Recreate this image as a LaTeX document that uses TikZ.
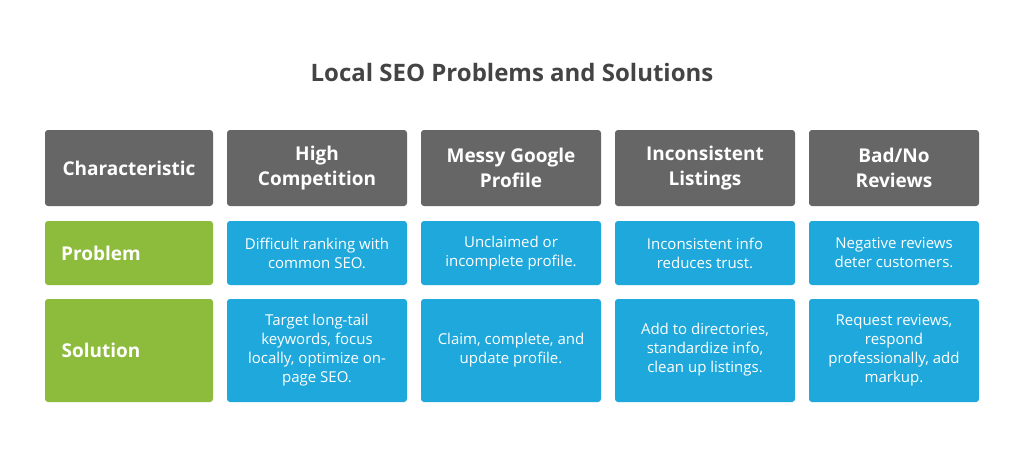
\documentclass[tikz,border=0pt]{standalone}
\usepackage{fontspec}
\setmainfont{Open Sans}
\definecolor{hd}{HTML}{666666}
\definecolor{bl}{HTML}{1FA8DB}
\definecolor{gr}{HTML}{8DBB3B}
\definecolor{tt}{HTML}{444444}
\begin{document}
\begin{tikzpicture}[x=1pt,y=-1pt,
 cell/.style={text=white,align=center,inner sep=0pt},
 hdr/.style={cell,font=\fontsize{19}{25}\selectfont\bfseries},
 lab/.style={cell,font=\fontsize{19}{24}\selectfont\bfseries},
 txt/.style={cell,font=\fontsize{15}{19}\selectfont}]
\useasboundingbox[fill=white] (0,0) rectangle (1024,467);
\node[text=tt,font=\fontsize{24}{28}\selectfont\bfseries] (title) at (512,72) {Local SEO Problems and Solutions};
% header row
\fill[hd,rounded corners=3pt] (45,130) rectangle (213,206);
\node[hdr] (h1) at (129,168) {Characteristic};
\fill[hd,rounded corners=3pt] (227,130) rectangle (407,206);
\node[hdr] (h2) at (317,168) {High\\Competition};
\fill[hd,rounded corners=3pt] (421,130) rectangle (601,206);
\node[hdr] (h3) at (511,168) {Messy Google\\Profile};
\fill[hd,rounded corners=3pt] (615,130) rectangle (795,206);
\node[hdr] (h4) at (705,168) {Inconsistent\\Listings};
\fill[hd,rounded corners=3pt] (809,130) rectangle (979,206);
\node[hdr] (h5) at (894,168) {Bad/No\\Reviews};
% problem row
\fill[gr,rounded corners=3pt] (45,221) rectangle (213,285);
\node[lab] (p1) at (101,253) {Problem};
\fill[bl,rounded corners=3pt] (227,221) rectangle (407,285);
\node[txt] (p2) at (317,253) {Difficult ranking with\\common SEO.};
\fill[bl,rounded corners=3pt] (421,221) rectangle (601,285);
\node[txt] (p3) at (511,253) {Unclaimed or\\incomplete profile.};
\fill[bl,rounded corners=3pt] (615,221) rectangle (795,285);
\node[txt] (p4) at (705,253) {Inconsistent info\\reduces trust.};
\fill[bl,rounded corners=3pt] (809,221) rectangle (979,285);
\node[txt] (p5) at (894,253) {Negative reviews\\deter customers.};
% solution row
\fill[gr,rounded corners=3pt] (45,299) rectangle (213,402);
\node[lab] (s1) at (101,350) {Solution};
\fill[bl,rounded corners=3pt] (227,299) rectangle (407,402);
\node[txt] (s2) at (317,350) {Target long-tail\\keywords, focus\\locally, optimize on-\\page SEO.};
\fill[bl,rounded corners=3pt] (421,299) rectangle (601,402);
\node[txt] (s3) at (511,350) {Claim, complete, and\\update profile.};
\fill[bl,rounded corners=3pt] (615,299) rectangle (795,402);
\node[txt] (s4) at (705,350) {Add to directories,\\standardize info,\\clean up listings.};
\fill[bl,rounded corners=3pt] (809,299) rectangle (979,402);
\node[txt] (s5) at (894,350) {Request reviews,\\respond\\professionally, add\\markup.};
\end{tikzpicture}
\end{document}
